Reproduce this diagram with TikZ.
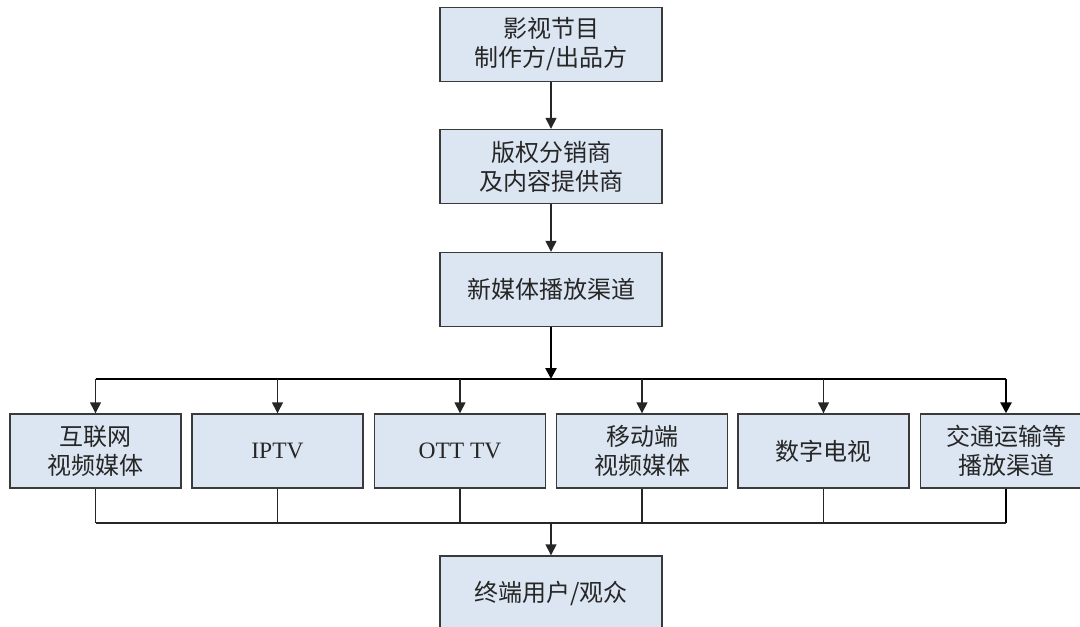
\documentclass[tikz,border=0pt]{standalone}
\usepackage{fontspec}
\setmainfont{Liberation Serif}
\newfontfamily\cjk{Noto Sans CJK SC}
\usetikzlibrary{arrows.meta}
\definecolor{boxfill}{HTML}{DCE6F2}
\definecolor{boxline}{HTML}{3A3A3A}
\tikzset{
  box/.style={draw=boxline, line width=1.4pt, fill=boxfill, minimum width=#1, minimum height=74pt, inner sep=0pt, align=center, text=black!85, font=\cjk\fontsize{24}{29}\selectfont},
  box/.default=222pt,
  rowbox/.style={box=171pt},
  latinbox/.style={font=\fontsize{23.5}{29}\selectfont},
  conn/.style={draw=black!85, line width=1.4pt},
  thickconn/.style={draw=black, line width=2.6pt},
  arr/.style={-{Triangle[width=11pt,length=11pt]}},
}
\begin{document}
\begin{tikzpicture}[x=1pt,y=-1pt]
\path[use as bounding box, clip] (0,0) rectangle (1080,627);
% main column
\node[box] (a) at (551,44.5) {影视节目\\制作方/出品方};
\node[box] (b) at (551,166.5) {版权分销商\\及内容提供商};
\node[box] (c) at (551,289.5) {新媒体播放渠道};
% row
\node[rowbox] (r1) at (95.5,451) {互联网\\视频媒体};
\node[rowbox, latinbox] (r2) at (277.5,451) {IPTV};
\node[rowbox, latinbox] (r3) at (460,451) {OTT TV};
\node[rowbox] (r4) at (642,451) {移动端\\视频媒体};
\node[rowbox] (r5) at (823.5,451) {数字电视};
\node[rowbox] (r6) at (1006,451) {交通运输等\\播放渠道};
% bottom
\node[box] (d) at (551,593) {终端用户/观众};
% bus coordinates
\coordinate (tbus) at (551,379);
\coordinate (bbus) at (551,523);
\coordinate (tl) at (r1.north |- tbus);
\coordinate (tr) at (r6.north |- tbus);
\coordinate (bl) at (r1.south |- bbus);
\coordinate (br) at (r6.south |- bbus);
% connectors
\draw[conn, arr] (a) -- (b);
\draw[conn, arr] (b) -- (c);
\draw[thickconn, arr] (c) -- (tbus);
\draw[thickconn] (tl) -- (tr);
\foreach \n in {r1,r2,r3,r4,r5} {
  \draw[conn, arr] (\n.north |- tbus) -- (\n.north);
}
\draw[thickconn, arr] (tr) -- (r6.north);
\foreach \n in {r1,r2,r3,r4,r5} {
  \draw[conn] (\n.south) -- (\n.south |- bbus);
}
\draw[thickconn] (r6.south) -- (br);
\draw[conn] (bl) -- (br);
\draw[conn, arr] (bbus) -- (d);
\end{tikzpicture}
\end{document}
